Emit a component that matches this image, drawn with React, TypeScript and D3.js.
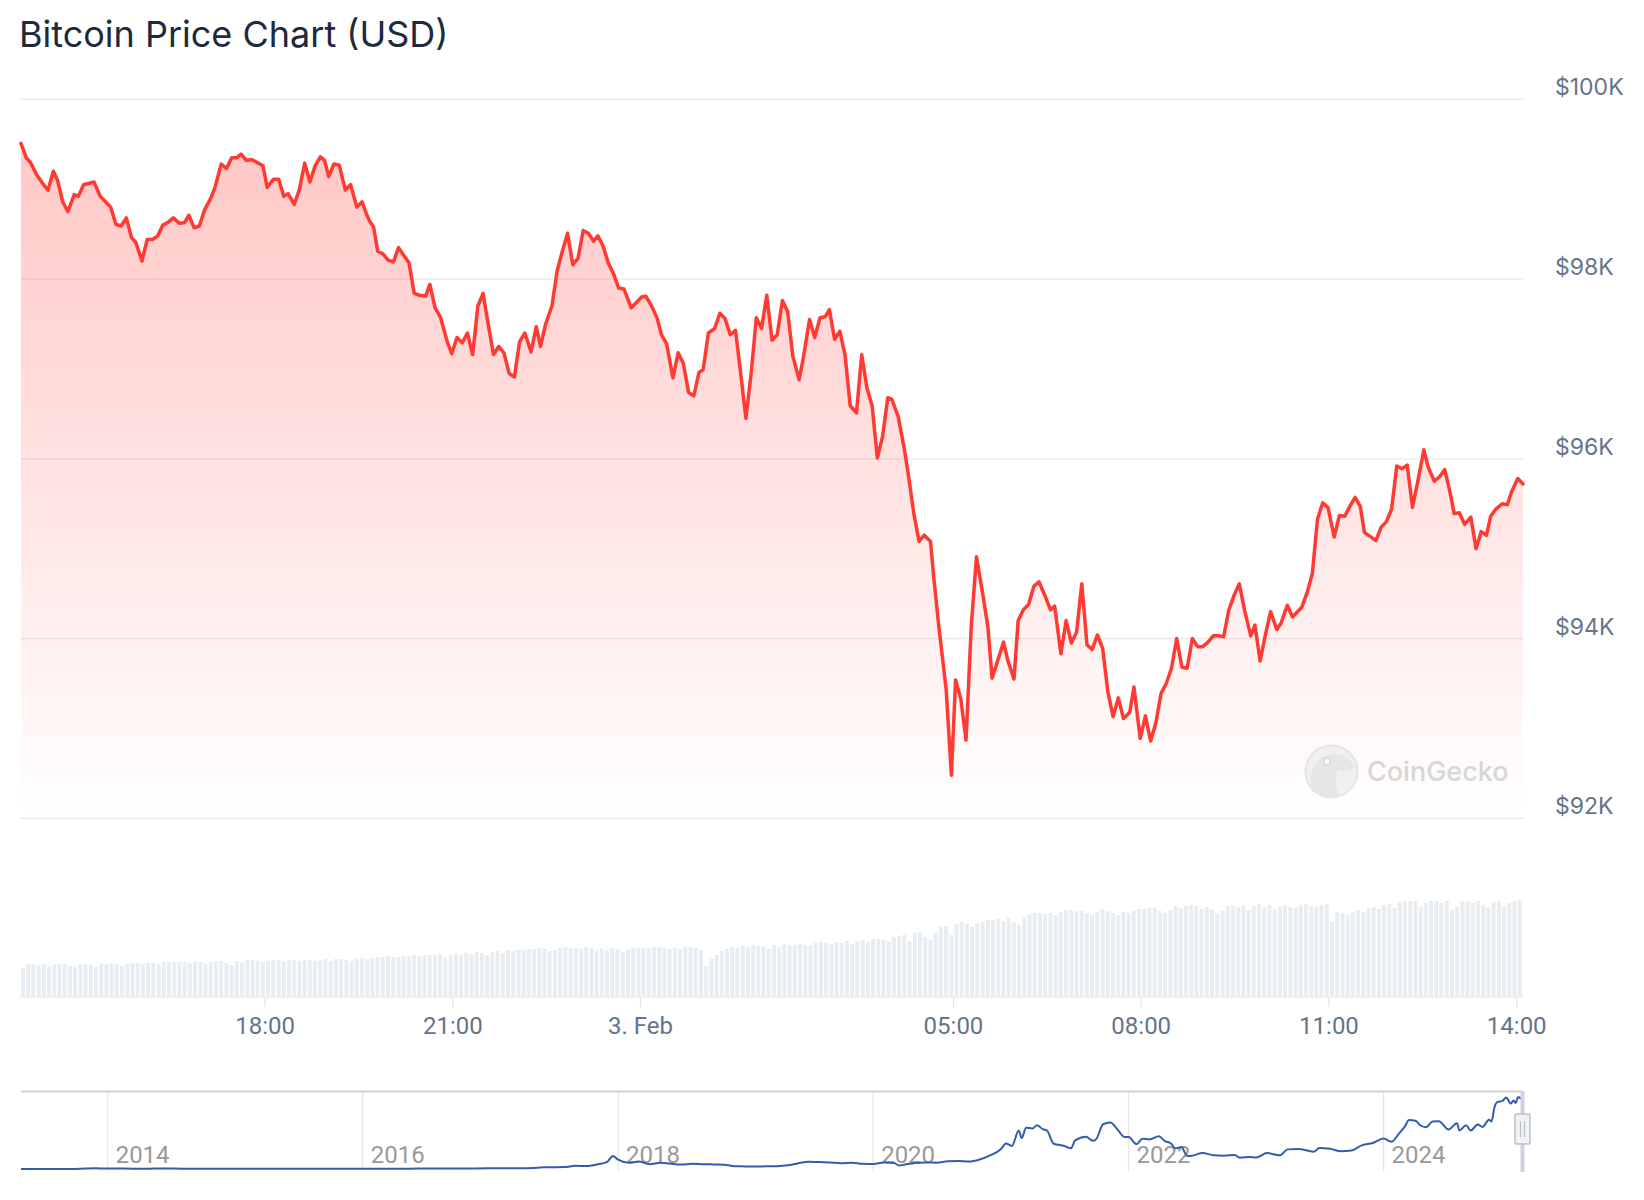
import React from "react";
import * as d3 from "d3";

const titleText = "Bitcoin Price Chart (USD)";
const startStamp = "2025-02-02T14:06";

// [minutes after start, price in USD]
const pricePoints: [number, number][] = [
  [0, 99510], [5, 99350], [9, 99300], [15, 99160], [21, 99060], [26, 98990], [31, 99200], [35, 99100], [40, 98860], [45, 98750],
  [51, 98940], [55, 98920], [60, 99050], [70, 99080], [76, 98920], [81, 98860], [86, 98800], [91, 98610], [96, 98590], [101, 98680],
  [106, 98460], [110, 98410], [116, 98200], [121, 98440], [126, 98440], [131, 98480], [136, 98600], [141, 98630], [146, 98680], [152, 98620],
  [157, 98630], [161, 98710], [166, 98570], [171, 98590], [176, 98770], [182, 98900], [186, 99020], [192, 99280], [197, 99230], [202, 99350],
  [207, 99350], [211, 99390], [216, 99320], [221, 99330], [226, 99300], [232, 99260], [236, 99020], [242, 99110], [247, 99110], [252, 98920],
  [256, 98950], [262, 98830], [267, 99000], [272, 99290], [277, 99080], [282, 99260], [287, 99360], [291, 99320], [295, 99140], [300, 99280],
  [305, 99270], [311, 98990], [316, 99050], [322, 98800], [327, 98860], [331, 98730], [334, 98650], [338, 98580], [342, 98310], [347, 98280],
  [352, 98210], [357, 98190], [362, 98350], [366, 98280], [372, 98180], [377, 97840], [382, 97820], [388, 97810], [392, 97940], [397, 97680],
  [402, 97580], [409, 97290], [413, 97170], [418, 97350], [423, 97290], [428, 97400], [433, 97160], [438, 97700], [443, 97840], [448, 97490],
  [453, 97160], [458, 97250], [463, 97180], [468, 96950], [473, 96910], [478, 97300], [483, 97400], [489, 97190], [494, 97470], [498, 97250],
  [503, 97500], [509, 97700], [514, 98090], [519, 98310], [524, 98510], [529, 98160], [534, 98230], [539, 98540], [544, 98510], [549, 98420],
  [553, 98480], [558, 98370], [563, 98180], [568, 98060], [573, 97900], [578, 97890], [585, 97680], [590, 97740], [595, 97800], [599, 97810],
  [605, 97690], [610, 97560], [614, 97380], [619, 97280], [625, 96900], [630, 97180], [635, 97060], [640, 96740], [645, 96700], [650, 96960],
  [654, 96990], [659, 97400], [665, 97450], [670, 97620], [675, 97560], [680, 97380], [685, 97430], [690, 96950], [695, 96450], [700, 96950],
  [705, 97570], [710, 97450], [715, 97820], [720, 97320], [725, 97380], [730, 97760], [735, 97640], [740, 97140], [746, 96880], [750, 97120],
  [756, 97550], [761, 97350], [766, 97570], [771, 97580], [775, 97660], [780, 97330], [785, 97420], [790, 97160], [795, 96590], [801, 96510],
  [806, 97160], [811, 96790], [816, 96590], [821, 96010], [826, 96250], [831, 96680], [835, 96660], [841, 96470], [847, 96100], [851, 95800],
  [856, 95390], [861, 95080], [866, 95150], [872, 95080], [875, 94690], [880, 94130], [887, 93430], [892, 92480], [896, 93540], [901, 93330],
  [906, 92870], [911, 94130], [916, 94910], [922, 94500], [927, 94130], [931, 93560], [936, 93740], [942, 93960], [946, 93760], [952, 93550],
  [956, 94200], [961, 94320], [966, 94380], [971, 94580], [976, 94630], [982, 94470], [987, 94320], [991, 94360], [997, 93830], [1002, 94200],
  [1007, 93950], [1012, 94070], [1017, 94610], [1022, 93930], [1027, 93880], [1032, 94040], [1037, 93890], [1042, 93410], [1047, 93130], [1052, 93340],
  [1057, 93110], [1063, 93180], [1067, 93460], [1073, 92890], [1078, 93140], [1083, 92860], [1088, 93060], [1093, 93390], [1098, 93500], [1103, 93670],
  [1108, 94000], [1113, 93680], [1118, 93670], [1123, 94000], [1128, 93910], [1133, 93910], [1138, 93960], [1143, 94030], [1149, 94030], [1153, 94020],
  [1158, 94320], [1163, 94480], [1168, 94610], [1173, 94320], [1179, 94030], [1183, 94150], [1188, 93750], [1193, 94040], [1198, 94300], [1204, 94100],
  [1208, 94170], [1214, 94370], [1219, 94240], [1224, 94300], [1228, 94350], [1233, 94510], [1238, 94720], [1243, 95330], [1248, 95510], [1253, 95460],
  [1259, 95130], [1264, 95370], [1269, 95360], [1274, 95470], [1279, 95570], [1284, 95470], [1288, 95180], [1293, 95140], [1299, 95090], [1304, 95240],
  [1309, 95300], [1314, 95440], [1319, 95920], [1324, 95890], [1329, 95930], [1334, 95460], [1339, 95740], [1345, 96100], [1349, 95910], [1355, 95750],
  [1360, 95800], [1365, 95880], [1370, 95630], [1374, 95390], [1379, 95400], [1384, 95270], [1390, 95350], [1395, 95000], [1400, 95190], [1405, 95150],
  [1409, 95360], [1414, 95440], [1420, 95500], [1425, 95490], [1429, 95630], [1435, 95780], [1440, 95720],
];

const volumeStepMinutes = 5;
// volume per 5-minute bar, billions USD (24 rows = 24 hours)
const volumes: number[] = [
  20.7, 23.5, 23.6, 22.9, 23.6, 22.1, 22.9, 23.6, 23.5, 22.2, 21.4, 23.6,
  23.5, 22.9, 21.4, 23.6, 23.6, 24.3, 23.6, 22.1, 23.6, 24.3, 24.3, 23.6,
  24.3, 24.3, 23.6, 25.0, 25.0, 25.0, 25.0, 25.0, 24.3, 25.7, 25.0, 23.6,
  25.0, 25.7, 25.7, 24.3, 22.9, 25.7, 24.3, 26.4, 26.4, 25.7, 25.0, 25.7,
  26.4, 26.4, 25.7, 26.4, 26.4, 25.7, 26.4, 26.4, 25.7, 26.4, 27.1, 25.7,
  27.1, 27.1, 26.4, 25.7, 27.1, 27.9, 27.1, 27.9, 28.6, 28.6, 29.3, 28.6,
  28.6, 29.3, 29.3, 30.0, 29.3, 30.0, 30.0, 30.0, 30.7, 28.6, 30.0, 30.7,
  30.0, 31.4, 30.7, 32.1, 31.4, 30.0, 32.1, 32.9, 31.4, 33.6, 32.9, 33.6,
  33.6, 34.3, 34.3, 35.0, 34.3, 32.9, 33.6, 35.0, 35.7, 35.0, 35.0, 34.3,
  35.7, 35.0, 32.9, 34.3, 33.6, 35.0, 34.3, 32.1, 34.3, 35.0, 35.0, 35.0,
  35.0, 35.7, 35.7, 35.0, 34.3, 35.0, 34.3, 35.7, 35.7, 35.0, 33.6, 22.1,
  27.1, 30.0, 32.9, 34.3, 35.7, 35.0, 36.4, 35.7, 37.1, 36.4, 35.7, 34.3,
  37.1, 35.7, 37.9, 37.1, 37.1, 37.9, 37.1, 37.1, 38.6, 39.3, 38.6, 37.9,
  39.3, 38.6, 40.0, 37.9, 40.0, 40.7, 39.3, 41.4, 41.4, 40.7, 39.3, 42.9,
  43.6, 44.3, 40.0, 45.7, 46.4, 42.9, 40.7, 45.7, 50.0, 50.7, 44.3, 52.1,
  53.6, 52.1, 50.0, 52.9, 53.6, 55.0, 55.0, 55.7, 54.3, 56.4, 53.6, 51.4,
  57.1, 59.3, 60.0, 60.0, 59.3, 60.0, 58.6, 60.7, 62.1, 62.1, 61.4, 61.4,
  60.0, 58.6, 60.7, 62.9, 61.4, 60.0, 58.6, 60.7, 60.0, 61.4, 62.9, 62.9,
  63.6, 63.6, 61.4, 60.0, 62.1, 65.0, 63.6, 65.0, 65.7, 65.0, 62.9, 64.3,
  62.9, 59.3, 61.4, 65.0, 65.0, 64.3, 65.7, 62.1, 65.0, 66.4, 64.3, 65.7,
  62.9, 64.3, 65.7, 64.3, 63.6, 65.7, 66.4, 65.0, 64.3, 65.7, 66.4, 53.6,
  60.7, 60.0, 58.6, 60.7, 62.1, 60.7, 63.6, 64.3, 62.9, 65.7, 66.4, 63.6,
  67.9, 68.6, 68.6, 68.6, 64.3, 67.1, 68.6, 68.6, 67.1, 68.6, 62.1, 64.3,
  68.6, 68.6, 67.1, 68.6, 65.7, 63.6, 67.9, 68.6, 64.3, 67.1, 68.6, 69.3,
];

const yTickValues = [92000, 94000, 96000, 98000, 100000];
const yTickLabels = ["$92K", "$94K", "$96K", "$98K", "$100K"];

const xTickStamps = [
  "2025-02-02T18:00", "2025-02-02T21:00", "2025-02-03T00:00", "2025-02-03T05:00",
  "2025-02-03T08:00", "2025-02-03T11:00", "2025-02-03T14:00",
];
const xTickLabels = ["18:00", "21:00", "3. Feb", "05:00", "08:00", "11:00", "14:00"];

const navYears = ["2014", "2016", "2018", "2020", "2022", "2024"];
const navRange = ["2013-04-28", "2025-02-03"];
// [date, USD] navigator history
const navHistory: [string, number][] = [
  ["2013-04-28", 135], ["2013-06-01", 120], ["2013-08-01", 100], ["2013-10-01", 130], ["2013-11-30", 1100], ["2013-12-20", 700],
  ["2014-01-15", 850], ["2014-02-15", 600], ["2014-03-15", 480], ["2014-04-15", 450], ["2014-05-15", 600], ["2014-06-15", 620],
  ["2014-07-15", 590], ["2014-08-15", 480], ["2014-09-15", 390], ["2014-10-15", 340], ["2014-11-15", 380], ["2014-12-15", 320],
  ["2015-01-15", 220], ["2015-03-15", 250], ["2015-05-15", 235], ["2015-07-15", 285], ["2015-09-15", 235], ["2015-11-15", 370],
  ["2016-01-15", 380], ["2016-03-15", 415], ["2016-05-15", 530], ["2016-07-15", 650], ["2016-09-15", 610], ["2016-11-15", 740],
  ["2017-01-01", 970], ["2017-02-01", 1100], ["2017-03-01", 1200], ["2017-04-01", 1100], ["2017-05-01", 1400], ["2017-06-01", 2400],
  ["2017-07-01", 2500], ["2017-08-01", 2800], ["2017-09-01", 4700], ["2017-10-01", 4300], ["2017-11-01", 6500], ["2017-12-01", 10500],
  ["2017-12-17", 19000], ["2018-01-01", 13500], ["2018-02-01", 9000], ["2018-03-01", 10900], ["2018-04-01", 7000], ["2018-05-01", 9200],
  ["2018-06-01", 7500], ["2018-07-01", 6400], ["2018-08-01", 7700], ["2018-09-01", 7000], ["2018-10-01", 6600], ["2018-11-01", 6300],
  ["2018-12-01", 4000], ["2019-01-01", 3800], ["2019-02-01", 3450], ["2019-03-01", 3850], ["2019-04-01", 4100], ["2019-05-01", 5300],
  ["2019-06-01", 8500], ["2019-07-01", 10600], ["2019-08-01", 10000], ["2019-09-01", 9600], ["2019-10-01", 8300], ["2019-11-01", 9200],
  ["2019-12-01", 7500], ["2020-01-01", 7200], ["2020-02-01", 9400], ["2020-03-01", 8600], ["2020-03-15", 5200], ["2020-04-01", 6600],
  ["2020-05-01", 8800], ["2020-06-01", 9500], ["2020-07-01", 9200], ["2020-08-01", 11300], ["2020-09-01", 11700], ["2020-10-01", 10800],
  ["2020-11-01", 13800], ["2020-12-01", 19700], ["2021-01-01", 29000], ["2021-01-15", 37000], ["2021-02-01", 33500], ["2021-02-21", 56000],
  ["2021-03-01", 45000], ["2021-03-14", 60000], ["2021-04-01", 58800], ["2021-04-14", 63500], ["2021-05-01", 57700], ["2021-05-12", 56000],
  ["2021-06-01", 36700], ["2021-07-01", 33500], ["2021-07-20", 30000], ["2021-08-01", 41500], ["2021-09-01", 47000], ["2021-09-21", 41000],
  ["2021-10-01", 43800], ["2021-10-20", 65000], ["2021-11-10", 67500], ["2021-12-01", 57000], ["2021-12-20", 46500], ["2022-01-01", 46300],
  ["2022-01-24", 36000], ["2022-02-10", 44000], ["2022-03-01", 43000], ["2022-03-29", 47500], ["2022-04-15", 40500], ["2022-05-01", 37700],
  ["2022-05-15", 30000], ["2022-06-01", 31800], ["2022-06-18", 19000], ["2022-07-01", 19300], ["2022-08-01", 23300], ["2022-09-01", 20000],
  ["2022-10-01", 19400], ["2022-11-01", 20500], ["2022-11-15", 16500], ["2022-12-15", 17500], ["2023-01-01", 16600], ["2023-02-01", 23100],
  ["2023-03-10", 20000], ["2023-04-01", 28500], ["2023-05-01", 29200], ["2023-06-15", 25000], ["2023-07-01", 30600], ["2023-08-01", 29300],
  ["2023-09-01", 25900], ["2023-10-01", 27000], ["2023-11-01", 34700], ["2023-12-01", 37700], ["2024-01-01", 44200], ["2024-01-23", 39500],
  ["2024-02-15", 52000], ["2024-03-01", 61200], ["2024-03-14", 71000], ["2024-04-01", 70000], ["2024-04-15", 63500], ["2024-05-01", 60600],
  ["2024-05-20", 69000], ["2024-06-07", 69500], ["2024-07-05", 57500], ["2024-07-29", 66500], ["2024-08-05", 56000], ["2024-08-24", 63500],
  ["2024-09-06", 56000], ["2024-09-27", 64500], ["2024-10-10", 61000], ["2024-10-29", 71500], ["2024-11-05", 69000], ["2024-11-13", 89000],
  ["2024-11-22", 97500], ["2024-12-05", 98500], ["2024-12-17", 104000], ["2024-12-30", 95000], ["2025-01-07", 99500], ["2025-01-13", 96000],
  ["2025-01-20", 104500], ["2025-01-27", 102500], ["2025-02-01", 101000], ["2025-02-03", 99000],
];

const W = 1644;
const H = 1200;
const plotLeft = 21;
const plotRight = 1523;
const priceTop = 99.3;
const priceBottom = 818.3;
const volBottom = 997;
const volTop = 857;
const navTop = 1091.5;
const navBottom = 1171;
const navLineTop = 1096;
const navLineBottom = 1169;

const parseStamp = d3.timeParse("%Y-%m-%dT%H:%M");
const parseDay = d3.timeParse("%Y-%m-%d");

export default function App() {
  const start = parseStamp(startStamp) as Date;
  const lastMin = d3.max(pricePoints, (d) => d[0]) as number;
  const end = d3.timeMinute.offset(start, lastMin);

  const x = d3.scaleTime().domain([start, end]).range([plotLeft, plotRight]);
  const y = d3.scaleLinear().domain([92000, 100000]).range([priceBottom, priceTop]);
  const yVol = d3.scaleLinear().domain([0, 100]).range([volBottom, volTop]);

  const pts = pricePoints.map(([m, p]) => ({ t: d3.timeMinute.offset(start, m), p }));
  const line = d3
    .line<{ t: Date; p: number }>()
    .x((d) => x(d.t))
    .y((d) => y(d.p));
  const area = d3
    .area<{ t: Date; p: number }>()
    .x((d) => x(d.t))
    .y0(y(92000))
    .y1((d) => y(d.p));

  const barStep = x(d3.timeMinute.offset(start, volumeStepMinutes)) - x(start);
  const barW = barStep - 1.3;

  const navX = d3
    .scaleTime()
    .domain([parseDay(navRange[0]) as Date, parseDay(navRange[1]) as Date])
    .range([plotLeft, plotRight]);
  const navY = d3.scaleLinear().domain([0, 106000]).range([navLineBottom, navLineTop]);
  const navPts = navHistory.map(([d, v]) => ({ t: parseDay(d) as Date, v }));
  const navLine = d3
    .line<{ t: Date; v: number }>()
    .x((d) => navX(d.t))
    .y((d) => navY(d.v))
    .curve(d3.curveMonotoneX);

  const handleX = plotRight;
  const wmY = 771.5;

  return (
    <div style={{ position: "absolute", left: 0, top: 0, width: W, height: H, background: "#fff" }}>
      <svg width={W} height={H} viewBox={`0 0 ${W} ${H}`} style={{ display: "block" }}>
        <defs>
          <linearGradient id="priceFill" gradientUnits="userSpaceOnUse" x1="0" y1={priceTop} x2="0" y2={priceBottom}>
            <stop offset="0" stopColor="#ff3a33" stopOpacity={0.3} />
            <stop offset="1" stopColor="#ff3a33" stopOpacity={0.0} />
          </linearGradient>
        </defs>

        <text x={19} y={47.3} fontFamily="Inter, 'Noto Sans', sans-serif" fontSize={36} fill="#1e293b">
          {titleText}
        </text>

        {/* grid */}
        {yTickValues.map((v) => (
          <line key={v} x1={plotLeft} x2={plotRight} y1={y(v)} y2={y(v)} stroke="#e8e8ea" strokeWidth={1.3} />
        ))}

        {/* volume */}
        {volumes.map((v, i) => {
          const bx = x(d3.timeMinute.offset(start, i * volumeStepMinutes));
          return <rect key={i} x={bx} y={yVol(v)} width={barW} height={volBottom - yVol(v)} fill="#e8edf2" />;
        })}
        <line x1={plotLeft} x2={plotRight} y1={volBottom} y2={volBottom} stroke="#e6e9ee" strokeWidth={1} />

        {/* area */}
        <path d={area(pts) || ""} fill="url(#priceFill)" />

        {/* watermark */}
        <g opacity={0.9}>
          <circle cx={1331.5} cy={wmY} r={26} fill="#efefef" stroke="#e3e3e3" strokeWidth={2} />
          <path
            d={`M1311,${wmY + 18} C1309,${wmY} 1314,${wmY - 14} 1330,${wmY - 17} C1342,${wmY - 19} 1352,${wmY - 12} 1354,${wmY - 4} C1350,${wmY} 1343,${wmY} 1338,${wmY - 1} C1334,${wmY + 6} 1336,${wmY + 16} 1340,${wmY + 24} C1330,${wmY + 27} 1318,${wmY + 25} 1311,${wmY + 18} Z`}
            fill="#e4e4e4"
          />
          <circle cx={1327} cy={wmY - 10} r={3.2} fill="#ffffff" stroke="#d6d6d6" strokeWidth={1.5} />
          <text x={1367} y={wmY + 9.5} fontFamily="Inter, 'Noto Sans', sans-serif" fontSize={27} fontWeight={500} fill="#d3d3d3">
            CoinGecko
          </text>
        </g>

        <path d={line(pts) || ""} fill="none" stroke="#ff3a33" strokeWidth={3.5} strokeLinejoin="round" strokeLinecap="round" />

        {/* y labels */}
        {yTickValues.map((v, i) => (
          <text key={v} x={1555} y={y(v) - 4} fontFamily="Inter, 'Noto Sans', sans-serif" fontSize={23} fill="#64748b">
            {yTickLabels[i]}
          </text>
        ))}

        {/* x ticks */}
        {xTickStamps.map((s, i) => {
          const tx = x(parseStamp(s) as Date);
          return (
            <g key={s}>
              <line x1={tx} x2={tx} y1={volBottom} y2={volBottom + 10} stroke="#e3e6ea" strokeWidth={1.3} />
              <text x={tx} y={1034} textAnchor="middle" fontFamily="Roboto, sans-serif" fontSize={24} fill="#64748b">
                {xTickLabels[i]}
              </text>
            </g>
          );
        })}

        {/* navigator */}
        {navYears.map((yr) => {
          const gx = navX(parseDay(`${yr}-01-01`) as Date);
          return (
            <g key={yr}>
              <line x1={gx} x2={gx} y1={navTop} y2={navBottom} stroke="#e6e6e6" strokeWidth={1.3} />
              <text x={gx + 8} y={1163} fontFamily="Roboto, sans-serif" fontSize={24} fill="#999999">
                {yr}
              </text>
            </g>
          );
        })}
        <path d={navLine(navPts) || ""} fill="none" stroke="#335cad" strokeWidth={2} />
        <path
          d={`M${plotLeft},${navTop} L${handleX - 1.5},${navTop} L${handleX - 1.5},${navBottom} L${handleX + 0.5},${navBottom} L${handleX + 0.5},${navTop}`}
          fill="none"
          stroke="#cdd3dc"
          strokeWidth={2}
        />
        <g>
          <rect x={handleX - 8} y={1114} width={15} height={30} rx={1} fill="#f2f2f2" stroke="#b9c1cc" strokeWidth={1.5} />
          <line x1={handleX - 2.5} x2={handleX - 2.5} y1={1121} y2={1137} stroke="#b9c1cc" strokeWidth={1.3} />
          <line x1={handleX + 1.5} x2={handleX + 1.5} y1={1121} y2={1137} stroke="#b9c1cc" strokeWidth={1.3} />
        </g>
      </svg>
    </div>
  );
}
